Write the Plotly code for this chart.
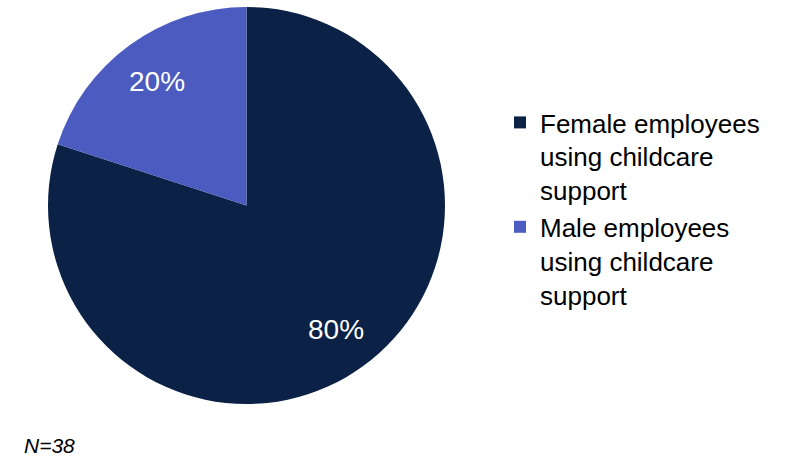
import math
import plotly.graph_objects as go

# Share of employees using childcare support, by gender
groups = ["Female employees<br>using childcare<br>support", "Male employees<br>using childcare<br>support"]
shares = [80, 20]
colors = ["#0b2145", "#4b5bbf"]
sample_note = "N=38"

W, H = 790, 457
FONT = "Liberation Sans, Arial, sans-serif"

# Pie placement in pixels (square domain so the circle fills it)
cx, cy, r = 246.5, 205.5, 198.5
dom_x = [(cx - r) / W, (cx + r) / W]
dom_y = [1 - (cy + r) / H, 1 - (cy - r) / H]

fig = go.Figure(
    go.Pie(
        labels=groups,
        values=shares,
        sort=False,
        direction="clockwise",
        rotation=0,
        marker=dict(colors=colors, line=dict(width=0)),
        textinfo="none",
        hoverinfo="label+percent",
        domain=dict(x=dom_x, y=dom_y),
    )
)

# Percentage labels placed along each slice's bisector
total = sum(shares)
start = 0.0
for v in shares:
    mid = (start + v / 2) / total * 2 * math.pi  # clockwise from 12 o'clock
    start += v
    px = cx + 0.77 * r * math.sin(mid)
    py = cy - 0.77 * r * math.cos(mid)
    fig.add_annotation(
        text=f"{v}%",
        xref="paper", yref="paper",
        x=px / W, y=1 - py / H,
        xanchor="center", yanchor="middle",
        showarrow=False,
        font=dict(family=FONT, size=28, color="white"),
    )

fig.add_annotation(
    text="<i>" + sample_note + "</i>",
    xref="paper", yref="paper",
    x=22 / W, y=1 - 445 / H,
    xanchor="left", yanchor="middle",
    showarrow=False,
    font=dict(family=FONT, size=21, color="black"),
)

fig.update_layout(
    width=W,
    height=H,
    margin=dict(l=0, r=0, t=0, b=0),
    paper_bgcolor="white",
    plot_bgcolor="white",
    font=dict(family=FONT, color="black"),
    showlegend=True,
    legend=dict(
        x=500 / W,
        y=1 - 99 / H,
        xanchor="left",
        yanchor="top",
        valign="top",
        font=dict(family=FONT, size=26, color="black"),
        tracegroupgap=0,
        itemclick=False,
        bgcolor="rgba(0,0,0,0)",
    ),
)

fig.write_html("out.html")
